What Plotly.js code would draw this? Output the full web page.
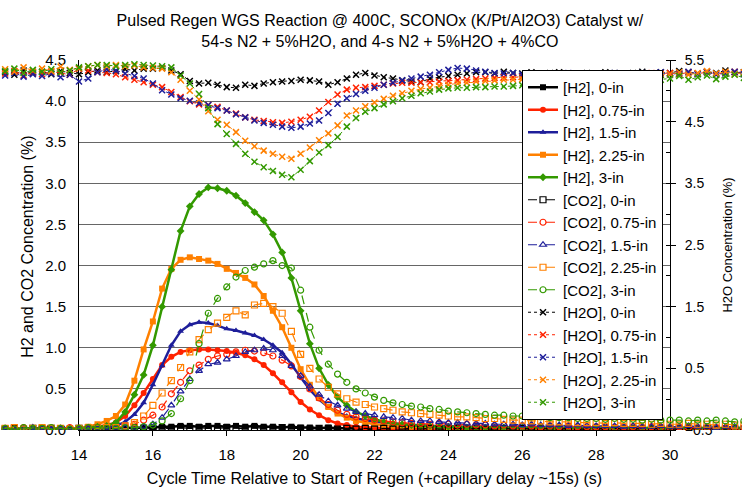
<!DOCTYPE html>
<html>
<head>
<meta charset="utf-8">
<script src="https://cdn.plot.ly/plotly-3.0.1.min.js"></script>
<style>html,body{margin:0;padding:0;background:#fff}#chart{width:742px;height:487px}</style>
</head>
<body>
<div id="chart"></div>
<script>
// Time grid (s), read every 0.25 s
const time = [
 12,12.25,12.5,12.75, 13,13.25,13.5,13.75, 14,14.25,14.5,14.75, 15,15.25,15.5,15.75,
 16,16.25,16.5,16.75, 17,17.25,17.5,17.75, 18,18.25,18.5,18.75, 19,19.25,19.5,19.75,
 20,20.25,20.5,20.75, 21,21.25,21.5,21.75, 22,22.25,22.5,22.75, 23,23.25,23.5,23.75,
 24,24.25,24.5,24.75, 25,25.25,25.5,25.75, 26,26.25,26.5,26.75, 27,27.25,27.5,27.75,
 28,28.25,28.5,28.75, 29,29.25,29.5,29.75, 30,30.25,30.5,30.75, 31,31.25,31.5,31.75, 32];

// [H2] (%)
const h2_0in = [
 0.01,0.02,0.01,0.02, 0.02,0.01,0.02,0.01, 0.02,0.01,0.02,0.02, 0.02,0.03,0.02,0.03,
 0.03,0.04,0.04,0.05, 0.05,0.04,0.05,0.05, 0.04,0.05,0.04,0.05, 0.04,0.04,0.03,0.04,
 0.03,0.03,0.02,0.03, 0.02,0.02,0.02,0.01, 0.02,0.01,0.02,0.01, 0.01,0.02,0.01,0.01,
 0.02,0.01,0.01,0.02, 0.01,0.01,0.02,0.01, 0.01,0.02,0.01,0.01, 0.02,0.01,0.01,0.02,
 0.01,0.01,0.02,0.01, 0.01,0.02,0.01,0.01, 0.02,0.01,0.01,0.02, 0.01,0.02,0.01,0.01, 0.02];
const h2_075in = [
 0.01,0.02,0.01,0.02, 0.01,0.02,0.02,0.01, 0.02,0.03,0.04,0.06, 0.09,0.17,0.30,0.45,
 0.62,0.79,0.89,0.95, 0.97,0.98,0.98,0.97, 0.96,0.94,0.91,0.86, 0.79,0.69,0.58,0.46,
 0.34,0.25,0.18,0.12, 0.08,0.06,0.04,0.03, 0.03,0.02,0.02,0.02, 0.02,0.01,0.02,0.01,
 0.01,0.02,0.01,0.01, 0.02,0.01,0.01,0.02, 0.01,0.01,0.02,0.01, 0.01,0.02,0.01,0.01,
 0.02,0.01,0.01,0.02, 0.01,0.01,0.02,0.01, 0.02,0.01,0.01,0.02, 0.01,0.01,0.02,0.01, 0.01];
const h2_15in = [
 0.01,0.01,0.02,0.01, 0.02,0.01,0.01,0.02, 0.01,0.02,0.02,0.03, 0.05,0.10,0.19,0.33,
 0.55,0.78,1.03,1.20, 1.28,1.31,1.30,1.27, 1.23,1.21,1.18,1.15, 1.10,1.03,0.94,0.80,
 0.64,0.49,0.37,0.28, 0.21,0.17,0.14,0.12, 0.10,0.09,0.08,0.07, 0.06,0.06,0.05,0.05,
 0.05,0.04,0.04,0.04, 0.04,0.03,0.04,0.03, 0.03,0.03,0.03,0.03, 0.03,0.02,0.03,0.03,
 0.02,0.03,0.02,0.02, 0.03,0.02,0.02,0.02, 0.02,0.02,0.03,0.02, 0.02,0.02,0.02,0.03, 0.02];
const h2_225in = [
 0.02,0.01,0.02,0.01, 0.01,0.02,0.01,0.02, 0.02,0.04,0.07,0.11, 0.17,0.31,0.60,0.98,
 1.32,1.72,1.96,2.07, 2.10,2.08,2.06,2.02, 1.96,1.91,1.85,1.77, 1.63,1.45,1.25,1.00,
 0.74,0.55,0.39,0.28, 0.20,0.15,0.11,0.09, 0.07,0.06,0.05,0.05, 0.04,0.04,0.04,0.03,
 0.03,0.03,0.03,0.03, 0.02,0.03,0.02,0.03, 0.02,0.03,0.02,0.02, 0.03,0.02,0.03,0.02,
 0.02,0.03,0.02,0.02, 0.03,0.02,0.02,0.03, 0.02,0.02,0.03,0.02, 0.02,0.03,0.02,0.02, 0.02];
const h2_3in = [
 0.01,0.02,0.01,0.01, 0.02,0.01,0.02,0.01, 0.02,0.03,0.04,0.05, 0.09,0.22,0.43,0.67,
 1.03,1.50,1.95,2.42, 2.72,2.87,2.95,2.94, 2.91,2.85,2.76,2.65, 2.55,2.38,2.16,1.85,
 1.45,1.05,0.75,0.55, 0.40,0.30,0.22,0.17, 0.13,0.10,0.08,0.07, 0.06,0.05,0.05,0.04,
 0.04,0.04,0.03,0.03, 0.03,0.03,0.03,0.02, 0.03,0.02,0.03,0.02, 0.02,0.03,0.02,0.02,
 0.03,0.02,0.02,0.03, 0.02,0.02,0.03,0.02, 0.02,0.03,0.02,0.02, 0.03,0.02,0.02,0.03, 0.02];

// [CO2] (%)
const co2_0in = [
 0.01,0.02,0.00,0.02, 0.01,0.02,0.01,0.00, 0.02,0.01,0.02,0.01, 0.02,0.01,0.03,0.02,
 0.01,0.02,0.02,0.03, 0.02,0.03,0.02,0.02, 0.03,0.02,0.02,0.03, 0.02,0.02,0.03,0.02,
 0.02,0.01,0.02,0.02, 0.01,0.02,0.01,0.02, 0.01,0.02,0.01,0.01, 0.02,0.01,0.02,0.01,
 0.01,0.02,0.01,0.02, 0.01,0.01,0.02,0.01, 0.02,0.01,0.01,0.02, 0.01,0.02,0.01,0.01,
 0.02,0.01,0.02,0.01, 0.01,0.02,0.01,0.02, 0.01,0.01,0.02,0.01, 0.02,0.01,0.01,0.02, 0.01];
const co2_075in = [
 0.02,0.01,0.03,0.02, 0.01,0.02,0.02,0.03, 0.02,0.01,0.03,0.02, 0.03,0.05,0.07,0.12,
 0.18,0.28,0.44,0.58, 0.72,0.79,0.86,0.90, 0.92,0.95,0.97,0.96, 0.94,0.90,0.85,0.78,
 0.65,0.50,0.39,0.31, 0.24,0.19,0.16,0.14, 0.12,0.11,0.10,0.09, 0.08,0.08,0.07,0.08,
 0.07,0.06,0.07,0.06, 0.06,0.05,0.06,0.05, 0.05,0.05,0.04,0.05, 0.04,0.05,0.04,0.04,
 0.04,0.04,0.03,0.04, 0.04,0.03,0.04,0.03, 0.03,0.04,0.03,0.03, 0.03,0.03,0.02,0.03, 0.03];
const co2_15in = [
 0.02,0.01,0.02,0.03, 0.02,0.01,0.02,0.02, 0.01,0.02,0.02,0.03, 0.02,0.03,0.03,0.04,
 0.07,0.15,0.30,0.47, 0.62,0.72,0.80,0.82, 0.86,0.90,0.95,0.97, 0.99,0.97,0.90,0.78,
 0.66,0.53,0.43,0.35, 0.30,0.26,0.22,0.20, 0.18,0.16,0.15,0.14, 0.12,0.11,0.11,0.10,
 0.09,0.09,0.08,0.08, 0.08,0.07,0.07,0.07, 0.06,0.07,0.06,0.06, 0.06,0.05,0.06,0.05,
 0.05,0.05,0.05,0.04, 0.05,0.04,0.04,0.05, 0.04,0.04,0.05,0.04, 0.04,0.03,0.04,0.04, 0.04];
const co2_225in = [
 0.02,0.03,0.01,0.02, 0.03,0.02,0.02,0.01, 0.02,0.03,0.02,0.03, 0.03,0.05,0.09,0.17,
 0.30,0.45,0.60,0.76, 0.95,1.10,1.22,1.30, 1.37,1.45,1.40,1.52, 1.54,1.50,1.42,1.20,
 0.92,0.75,0.62,0.52, 0.44,0.38,0.34,0.31, 0.28,0.26,0.24,0.22, 0.21,0.20,0.19,0.18,
 0.17,0.16,0.16,0.15, 0.14,0.14,0.13,0.12, 0.12,0.11,0.11,0.10, 0.10,0.10,0.09,0.09,
 0.09,0.08,0.09,0.08, 0.08,0.08,0.07,0.08, 0.07,0.07,0.08,0.07, 0.07,0.06,0.07,0.06, 0.06];
const co2_3in = [
 0.02,0.01,0.03,0.02, 0.02,0.03,0.02,0.01, 0.02,0.03,0.03,0.02, 0.02,0.03,0.03,0.04,
 0.06,0.11,0.20,0.38, 0.60,1.05,1.42,1.60, 1.74,1.86,1.94,1.98, 2.02,2.06,2.00,1.97,
 1.70,1.25,0.97,0.80, 0.68,0.58,0.50,0.45, 0.40,0.36,0.33,0.31, 0.29,0.28,0.26,0.25,
 0.23,0.22,0.21,0.20, 0.19,0.18,0.18,0.17, 0.17,0.16,0.16,0.15, 0.15,0.15,0.14,0.14,
 0.14,0.13,0.14,0.13, 0.13,0.12,0.13,0.12, 0.12,0.12,0.11,0.12, 0.11,0.12,0.11,0.10, 0.11];

// [H2O] (%) - right axis
const h2o_0in = [
 5.30,5.26,5.33,5.28, 5.31,5.27,5.32,5.29, 5.27,5.30,5.33,5.30, 5.32,5.35,5.33,5.36,
 5.36,5.37,5.33,5.27, 5.16,5.12,5.13,5.10, 5.06,5.05,5.10,5.08, 5.12,5.14,5.15,5.16,
 5.18,5.17,5.15,5.10, 5.14,5.20,5.26,5.29, 5.25,5.22,5.20,5.17, 5.15,5.14,5.20,5.22,
 5.24,5.26,5.28,5.30, 5.30,5.28,5.31,5.29, 5.28,5.30,5.27,5.29, 5.30,5.28,5.27,5.29,
 5.28,5.30,5.29,5.27, 5.29,5.31,5.28,5.30, 5.29,5.32,5.30,5.28, 5.31,5.29,5.33,5.30, 5.30];
const h2o_075in = [
 5.28,5.32,5.25,5.30, 5.27,5.31,5.29,5.26, 5.36,5.33,5.30,5.29, 5.27,5.22,5.18,5.14,
 5.10,5.06,4.98,4.90, 4.83,4.78,4.77,4.74, 4.68,4.63,4.57,4.53, 4.51,4.49,4.48,4.50,
 4.53,4.58,4.68,4.82, 4.94,5.02,5.05,5.06, 5.08,5.10,5.12,5.13, 5.13,5.14,5.14,5.15,
 5.16,5.17,5.18,5.19, 5.20,5.21,5.22,5.22, 5.23,5.24,5.24,5.25, 5.25,5.26,5.25,5.26,
 5.27,5.26,5.27,5.28, 5.27,5.28,5.29,5.28, 5.29,5.27,5.30,5.28, 5.30,5.27,5.29,5.31, 5.28];
const h2o_15in = [
 5.25,5.29,5.23,5.27, 5.24,5.28,5.22,5.26, 5.15,5.20,5.30,5.35, 5.33,5.28,5.24,5.20,
 5.12,5.01,4.94,4.88, 4.84,4.80,4.77,4.72, 4.68,4.62,4.57,4.52, 4.48,4.45,4.42,4.40,
 4.42,4.47,4.52,4.64, 4.79,4.88,4.95,5.00, 5.05,5.10,5.13,5.17, 5.20,5.23,5.26,5.30,
 5.34,5.37,5.36,5.33, 5.31,5.29,5.28,5.29, 5.27,5.28,5.26,5.28, 5.27,5.29,5.28,5.27,
 5.28,5.27,5.29,5.28, 5.27,5.29,5.28,5.30, 5.26,5.29,5.31,5.27, 5.30,5.26,5.28,5.31, 5.27];
const h2o_225in = [
 5.35,5.31,5.38,5.33, 5.36,5.32,5.39,5.34, 5.37,5.40,5.42,5.40, 5.42,5.40,5.41,5.38,
 5.37,5.36,5.30,5.18, 5.00,4.86,4.67,4.53, 4.45,4.33,4.19,4.10, 4.03,3.98,3.93,3.90,
 3.98,4.08,4.20,4.31, 4.44,4.60,4.68,4.75, 4.81,4.87,4.92,4.96, 5.00,5.03,5.05,5.08,
 5.10,5.12,5.13,5.15, 5.16,5.17,5.18,5.18, 5.19,5.20,5.20,5.21, 5.21,5.22,5.22,5.23,
 5.23,5.24,5.24,5.25, 5.25,5.26,5.25,5.26, 5.27,5.30,5.26,5.29, 5.32,5.28,5.31,5.27, 5.30];
const h2o_3in = [
 5.32,5.36,5.29,5.34, 5.31,5.35,5.30,5.33, 5.38,5.40,5.42,5.42, 5.40,5.42,5.43,5.42,
 5.41,5.40,5.38,5.25, 5.12,4.95,4.72,4.46, 4.30,4.14,3.98,3.85, 3.76,3.70,3.64,3.60,
 3.72,3.86,4.00,4.12, 4.25,4.42,4.56,4.66, 4.72,4.78,4.83,4.88, 4.92,4.96,4.99,5.02,
 5.04,5.05,5.05,5.06, 5.06,5.07,5.07,5.08, 5.09,5.10,5.10,5.11, 5.12,5.12,5.13,5.14,
 5.14,5.15,5.15,5.16, 5.16,5.17,5.17,5.18, 5.20,5.24,5.18,5.22, 5.25,5.19,5.23,5.26, 5.21];

const positions = ['0-in', '0.75-in', '1.5-in', '2.25-in', '3-in'];
const colors = ['#000000', '#FF2200', '#1E1E9A', '#FF8000', '#339900'];
const h2Sym = ['square', 'circle', 'triangle-up', 'square', 'diamond'];
const co2Sym = ['square-open', 'circle-open', 'triangle-up-open', 'square-open', 'circle-open'];

const h2Data = [h2_0in, h2_075in, h2_15in, h2_225in, h2_3in];
const co2Data = [co2_0in, co2_075in, co2_15in, co2_225in, co2_3in];
const h2oData = [h2o_0in, h2o_075in, h2o_15in, h2o_225in, h2o_3in];

// Page geometry: the visible frame spans x = 14..30 between these pixels;
// the data are drawn on a full-width twin axis so the samples before 14 s
// and after 30 s spill past the frame, as in the original chart.
const W = 742, H = 487, FRAME_L = 79, FRAME_R = 670;
const X0 = 14, X1 = 30;
const pxPerUnit = (FRAME_R - FRAME_L) / (X1 - X0);
const fullXRange = [X0 - FRAME_L / pxPerUnit, X1 + (W - FRAME_R) / pxPerUnit];

const traces = [
  // empty carriers so the visible frame axes are drawn
  {x: [], y: [], type: 'scatter', mode: 'lines', xaxis: 'x', yaxis: 'y', showlegend: false, hoverinfo: 'skip'},
  {x: [], y: [], type: 'scatter', mode: 'lines', xaxis: 'x', yaxis: 'y2', showlegend: false, hoverinfo: 'skip'}
];
positions.forEach((p, i) => {
  traces.push({
    x: time, y: h2Data[i], name: '[H2], ' + p, type: 'scatter', mode: 'lines+markers',
    xaxis: 'x2', yaxis: 'y3',
    line: {color: colors[i], width: 2.5},
    marker: {symbol: h2Sym[i], size: 6, color: colors[i]}
  });
});
positions.forEach((p, i) => {
  traces.push({
    x: time, y: co2Data[i], name: '[CO2], ' + p, type: 'scatter', mode: 'lines+markers',
    xaxis: 'x2', yaxis: 'y3',
    line: {color: colors[i], width: 1.2, dash: 'dash'},
    marker: {symbol: co2Sym[i], size: 6, color: colors[i], line: {color: colors[i], width: 1.2}}
  });
});
positions.forEach((p, i) => {
  traces.push({
    x: time, y: h2oData[i], name: '[H2O], ' + p, type: 'scatter', mode: 'lines+markers',
    xaxis: 'x2', yaxis: 'y4',
    line: {color: colors[i], width: 1, dash: 'dot'},
    marker: {symbol: 'x-thin', size: 6, color: colors[i], line: {color: colors[i], width: 1.5}}
  });
});

const layout = {
  width: W, height: H,
  margin: {l: 0, r: 0, t: 60, b: 57},
  paper_bgcolor: '#ffffff', plot_bgcolor: 'rgba(0,0,0,0)',
  font: {family: '"Liberation Sans", Arial, sans-serif', size: 15, color: '#000'},
  title: {
    text: 'Pulsed Regen WGS Reaction @ 400C, SCONOx (K/Pt/Al2O3) Catalyst w/<br>54-s N2 + 5%H2O, and 4-s N2 + 5%H2O + 4%CO',
    x: 0.512, xanchor: 'center', y: 0.946, yanchor: 'top',
    font: {size: 16, color: '#000'}
  },
  xaxis: {
    domain: [FRAME_L / W, FRAME_R / W], anchor: 'y',
    range: [X0, X1], tick0: 14, dtick: 2, ticks: 'outside', ticklen: 5, tickcolor: '#000',
    showline: true, linecolor: '#000', linewidth: 1, showgrid: false, zeroline: false,
    ticklabelstandoff: 6,
    title: {text: 'Cycle Time Relative to Start of Regen (+capillary delay ~15s) (s)', standoff: 14, font: {size: 16}}
  },
  yaxis: {
    domain: [0, 1], anchor: 'x',
    range: [0, 4.5], tick0: 0, dtick: 0.5, tickformat: '.1f', ticks: '',
    showline: true, linecolor: '#000', linewidth: 1,
    showgrid: true, gridcolor: '#666666', gridwidth: 1.2, zeroline: false,
    ticklabelstandoff: 9
  },
  yaxis2: {
    overlaying: 'y', side: 'right', anchor: 'x',
    range: [-0.5, 5.5], tick0: -0.5, dtick: 1, tickformat: '.1f',
    ticks: 'outside', ticklen: 5, tickcolor: '#000', tickfont: {size: 14},
    minor: {tick0: 0, dtick: 0.5, ticks: 'inside', ticklen: 4, tickcolor: '#000', showgrid: false},
    showline: true, linecolor: '#000', linewidth: 1, showgrid: false, zeroline: false,
    ticklabelstandoff: 6,
    title: {text: 'H2O Concentration (%)', standoff: 11, font: {size: 13}}
  },
  xaxis2: {domain: [0, 1], anchor: 'y3', range: fullXRange, visible: false},
  yaxis3: {domain: [0, 1], anchor: 'x2', range: [0, 4.5], visible: false},
  yaxis4: {overlaying: 'y3', anchor: 'x2', side: 'right', range: [-0.5, 5.5], visible: false},
  annotations: [{
    text: 'H2 and CO2 Concentration (%)', textangle: -90, showarrow: false,
    xref: 'paper', yref: 'paper', x: 28 / W, y: 0.495, xanchor: 'center', yanchor: 'middle',
    font: {size: 16, color: '#000'}
  }],
  legend: {
    x: 522 / W, y: 0.973, xanchor: 'left', yanchor: 'top',
    bgcolor: '#ffffff', bordercolor: '#000', borderwidth: 1,
    font: {size: 15, color: '#000'}
  },
  showlegend: true
};

Plotly.newPlot('chart', traces, layout, {displayModeBar: false, staticPlot: true});
</script>
</body>
</html>
